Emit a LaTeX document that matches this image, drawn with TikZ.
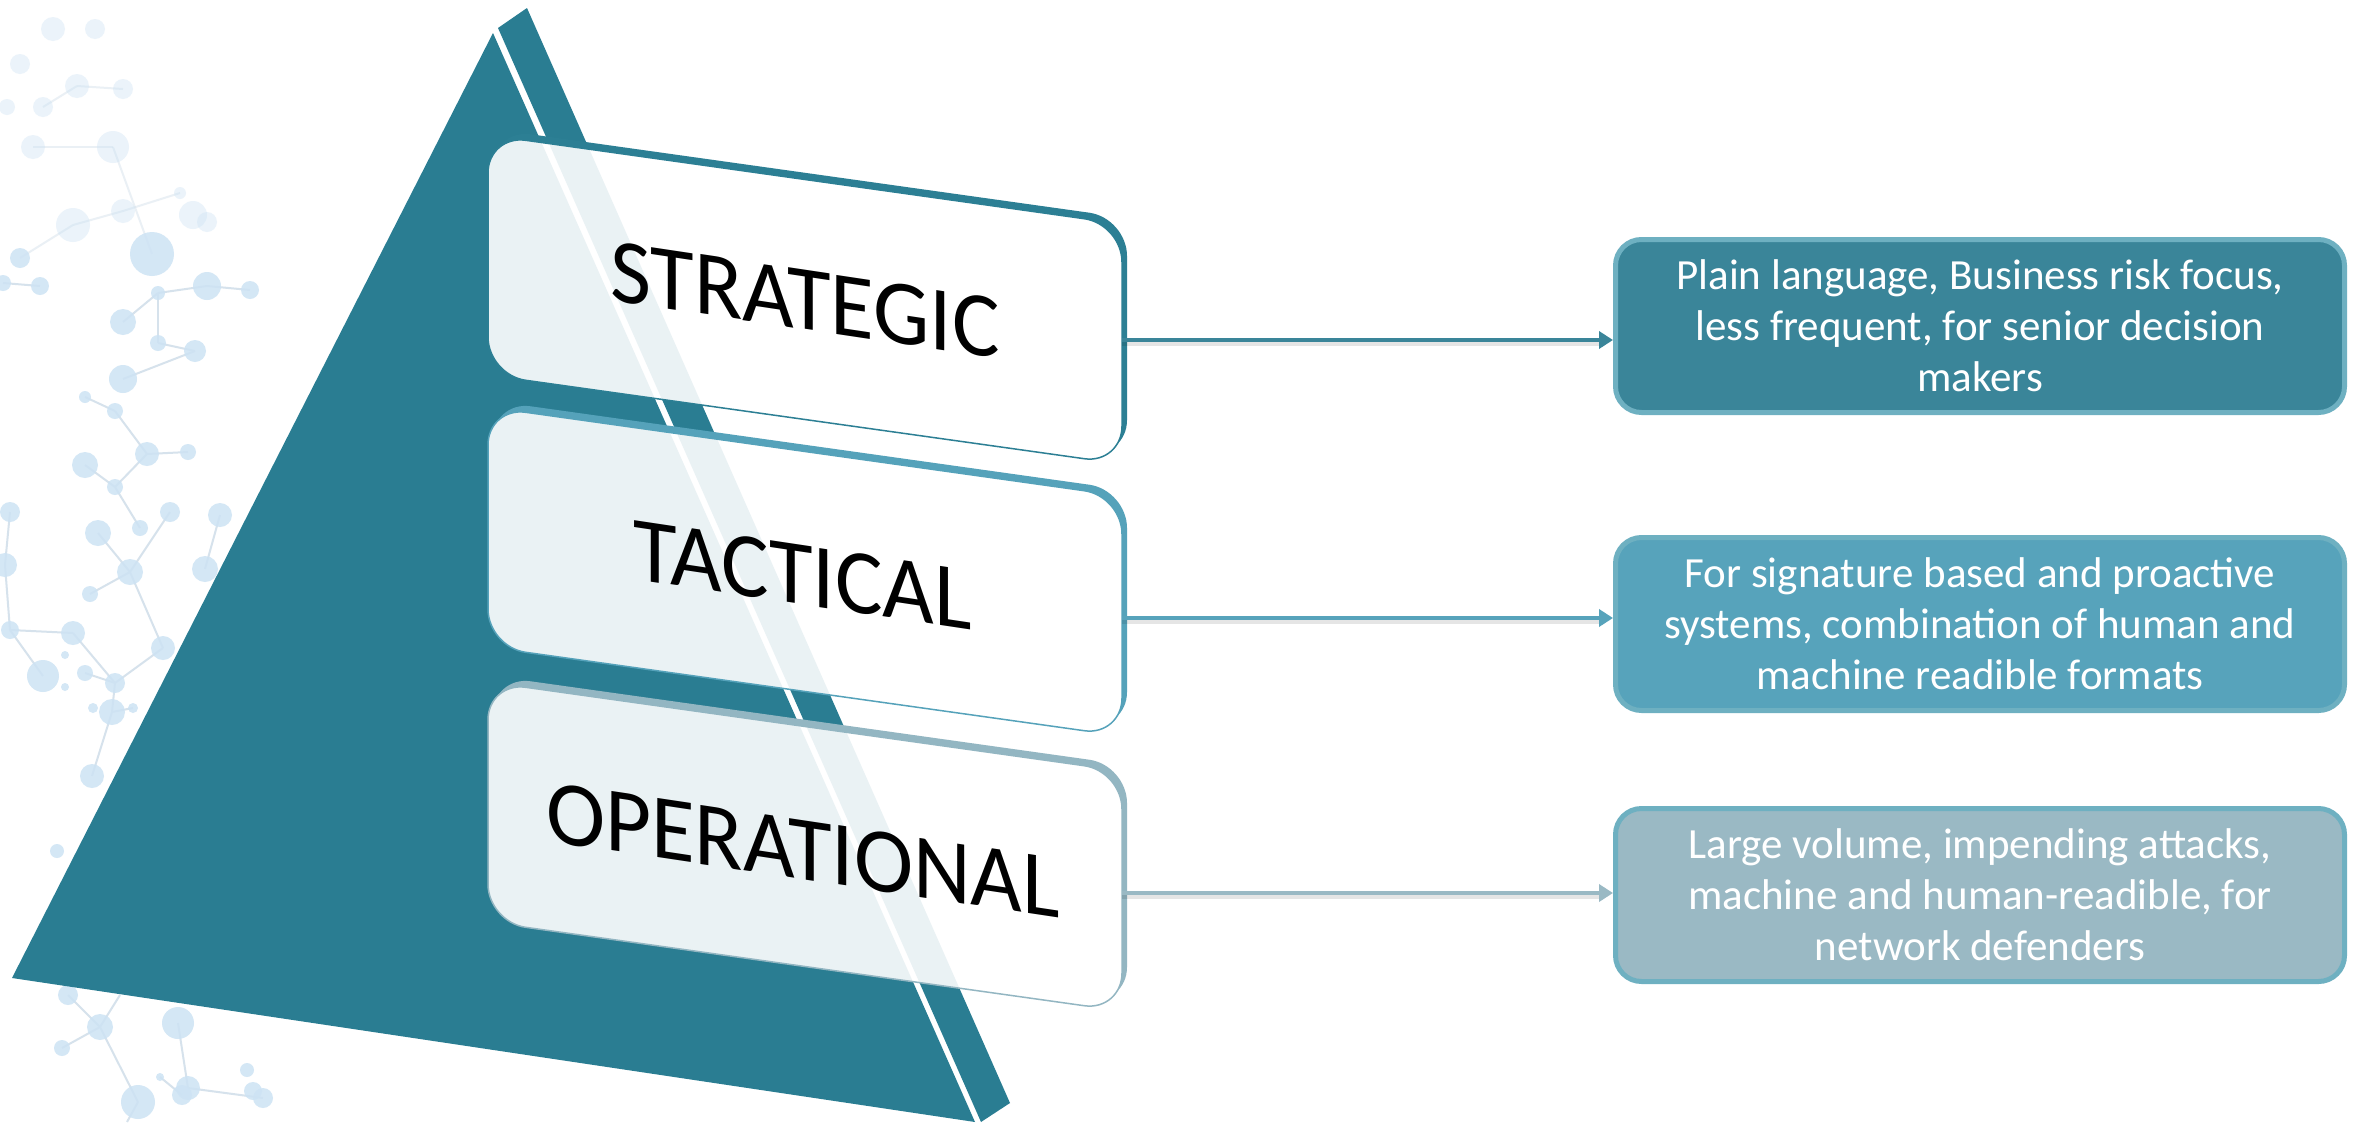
\documentclass[tikz,border=0pt]{standalone}
\usepackage{fontspec}
\setmainfont{Carlito}
\usetikzlibrary{arrows.meta}
\definecolor{pyr}{HTML}{2A7D92}
\definecolor{bS}{HTML}{2C7F94}
\definecolor{bT}{HTML}{55A2BA}
\definecolor{bO}{HTML}{93B6C2}
\definecolor{fS}{HTML}{3A8599}
\definecolor{fT}{HTML}{57A3BB}
\definecolor{fO}{HTML}{9AB9C4}
\definecolor{rb}{HTML}{6EB0C1}
\definecolor{mol}{HTML}{CDE3F4}
\definecolor{molline}{HTML}{D6E2EC}
\tikzset{
  rbox/.style={draw=rb, line width=5pt, rounded corners=26pt, minimum width=729pt,
    minimum height=173pt, text=white, align=center, inner sep=0pt,
    font=\fontsize{43}{51}\selectfont},
  lvl/.style={font=\fontsize{92}{100}\selectfont, yslant=-0.15, xscale=0.97, inner sep=0pt},
  conn/.style={line width=4.5pt, -{Triangle[length=14pt,width=17pt]}},
  connshadow/.style={line width=4.5pt, black, opacity=0.10},
  molc/.style={fill=mol, fill opacity=0.85},
  molf/.style={fill=mol, fill opacity=0.4},
  mline/.style={draw=molline, line width=2pt},
  mlinef/.style={draw=molline, line width=2pt, draw opacity=0.5},
}
\newcommand{\levelbox}[2]{%
  \begin{scope}[even odd rule]
    \clip (-20,-20) rectangle (2400,1150)
      [rounded corners=38pt] (488,#1) -- (1122,#1+89) -- (1122,#1+329) -- (488,#1+240) -- cycle;
    \fill[#2, rounded corners=38pt, shift={(5,-6)}]
      (488,#1) -- (1122,#1+89) -- (1122,#1+329) -- (488,#1+240) -- cycle;
  \end{scope}
  \path[fill=white, fill opacity=0.9, draw=#2, line width=1.5pt, rounded corners=38pt]
    (488,#1) -- (1122,#1+89) -- (1122,#1+329) -- (488,#1+240) -- cycle;
}
\begin{document}
\begin{tikzpicture}[x=1pt,y=-1pt]
\useasboundingbox (0,0) rectangle (2356,1122);
\fill[white] (0,0) rectangle (2356,1122);

% background molecules
\foreach \a/\b in {{20,258}/{73,225},{73,225}/{123,211},{123,211}/{180,193},{152,254}/{113,147},
  {33,147}/{113,147},{77,86}/{123,89},{43,107}/{77,86}}
  \draw[mlinef] (\a) -- (\b);
\foreach \a/\b in {{3,283}/{40,286},{123,322}/{158,293},{158,293}/{207,286},{207,286}/{250,290},
  {158,293}/{158,343},{158,343}/{195,351},{123,379}/{195,351},{85,397}/{115,411},{115,411}/{147,454},
  {147,454}/{188,452},{85,465}/{115,487},{115,487}/{147,454},{115,487}/{140,528},{98,533}/{130,572},
  {130,572}/{170,512},{130,572}/{90,594},{130,572}/{163,648},{220,515}/{205,569},{10,512}/{5,565},
  {5,565}/{10,630},{10,630}/{73,633},{10,630}/{43,676},{73,633}/{115,683},{85,673}/{115,683},
  {115,683}/{163,648},{115,683}/{112,712},{112,712}/{133,708},{112,712}/{92,776},
  {68,995}/{100,1027},{100,1027}/{62,1048},{100,1027}/{138,1102},{100,1027}/{120,995},
  {178,1023}/{188,1088},{160,1077}/{182,1095},{188,1088}/{263,1098},{138,1102}/{127,1122}}
  \draw[mline] (\a) -- (\b);
\foreach \p/\r in {{53,29}/12,{95,29}/10,{20,64}/10,{77,86}/12,{123,89}/10,{43,107}/10,{7,107}/8,
  {33,147}/12,{113,147}/16,{180,193}/6,{73,225}/17,{123,211}/12,{193,215}/14,{207,222}/10}
  \fill[molf] (\p) circle (\r);
\foreach \p/\r in {{152,254}/22,{20,258}/10,{3,283}/8,{40,286}/9,{207,286}/14,{250,290}/9,
  {158,293}/7,{123,322}/13,{158,343}/8,{195,351}/11,{123,379}/14,{85,397}/6,{115,411}/8,
  {147,454}/12,{188,452}/8,{85,465}/13,{115,487}/8,{10,512}/10,{170,512}/10,{220,515}/12,
  {98,533}/13,{140,528}/8,{5,565}/12,{205,569}/13,{130,572}/13,{90,594}/8,{10,630}/9,
  {73,633}/12,{163,648}/12,{43,676}/16,{85,673}/8,{65,655}/4,{115,683}/10,{65,687}/4,
  {112,712}/13,{93,708}/5,{133,708}/5,{92,776}/12,{57,851}/7,
  {68,995}/10,{100,1027}/13,{62,1048}/8,{178,1023}/16,{138,1102}/17,{188,1088}/12,
  {182,1095}/10,{160,1077}/4,{247,1070}/7,{263,1098}/10,{253,1091}/9}
  \fill[molc] (\p) circle (\r);

% pyramid
\fill[pyr] (493,33) -- (975,1122) -- (12,978) -- cycle;
\fill[pyr] (498,28) -- (527,8) -- (1010,1103) -- (981,1122) -- cycle;

% level boxes
\levelbox{135}{bS}
\levelbox{407}{bT}
\levelbox{682}{bO}

\node[lvl] (tS) at (805,300) {STRATEGIC};
\node[lvl] (tT) at (803,575) {TACTICAL};
\node[lvl] (tO) at (803,850) {OPERATIONAL};

\coordinate (sE) at (1122,340);
\coordinate (tE) at (1122,618);
\coordinate (oE) at (1122,893);

% description boxes
\node[rbox, fill=fS] (r1) at (1980,326) {Plain language, Business risk focus,\\less frequent, for senior decision\\makers};
\node[rbox, fill=fT] (r2) at (1980,624) {For signature based and proactive\\systems, combination of human and\\machine readible formats};
\node[rbox, fill=fO] (r3) at (1980,895) {Large volume, impending attacks,\\machine and human-readible, for\\network defenders};

% connectors
\draw[connshadow] ([yshift=-4pt]sE) -- ([yshift=-4pt,xshift=-14pt]sE -| r1.west);
\draw[connshadow] ([yshift=-4pt]tE) -- ([yshift=-4pt,xshift=-14pt]tE -| r2.west);
\draw[connshadow] ([yshift=-4pt]oE) -- ([yshift=-4pt,xshift=-14pt]oE -| r3.west);
\draw[conn, fS] (sE) -- (sE -| r1.west);
\draw[conn, fT] (tE) -- (tE -| r2.west);
\draw[conn, fO] (oE) -- (oE -| r3.west);
\end{tikzpicture}
\end{document}
